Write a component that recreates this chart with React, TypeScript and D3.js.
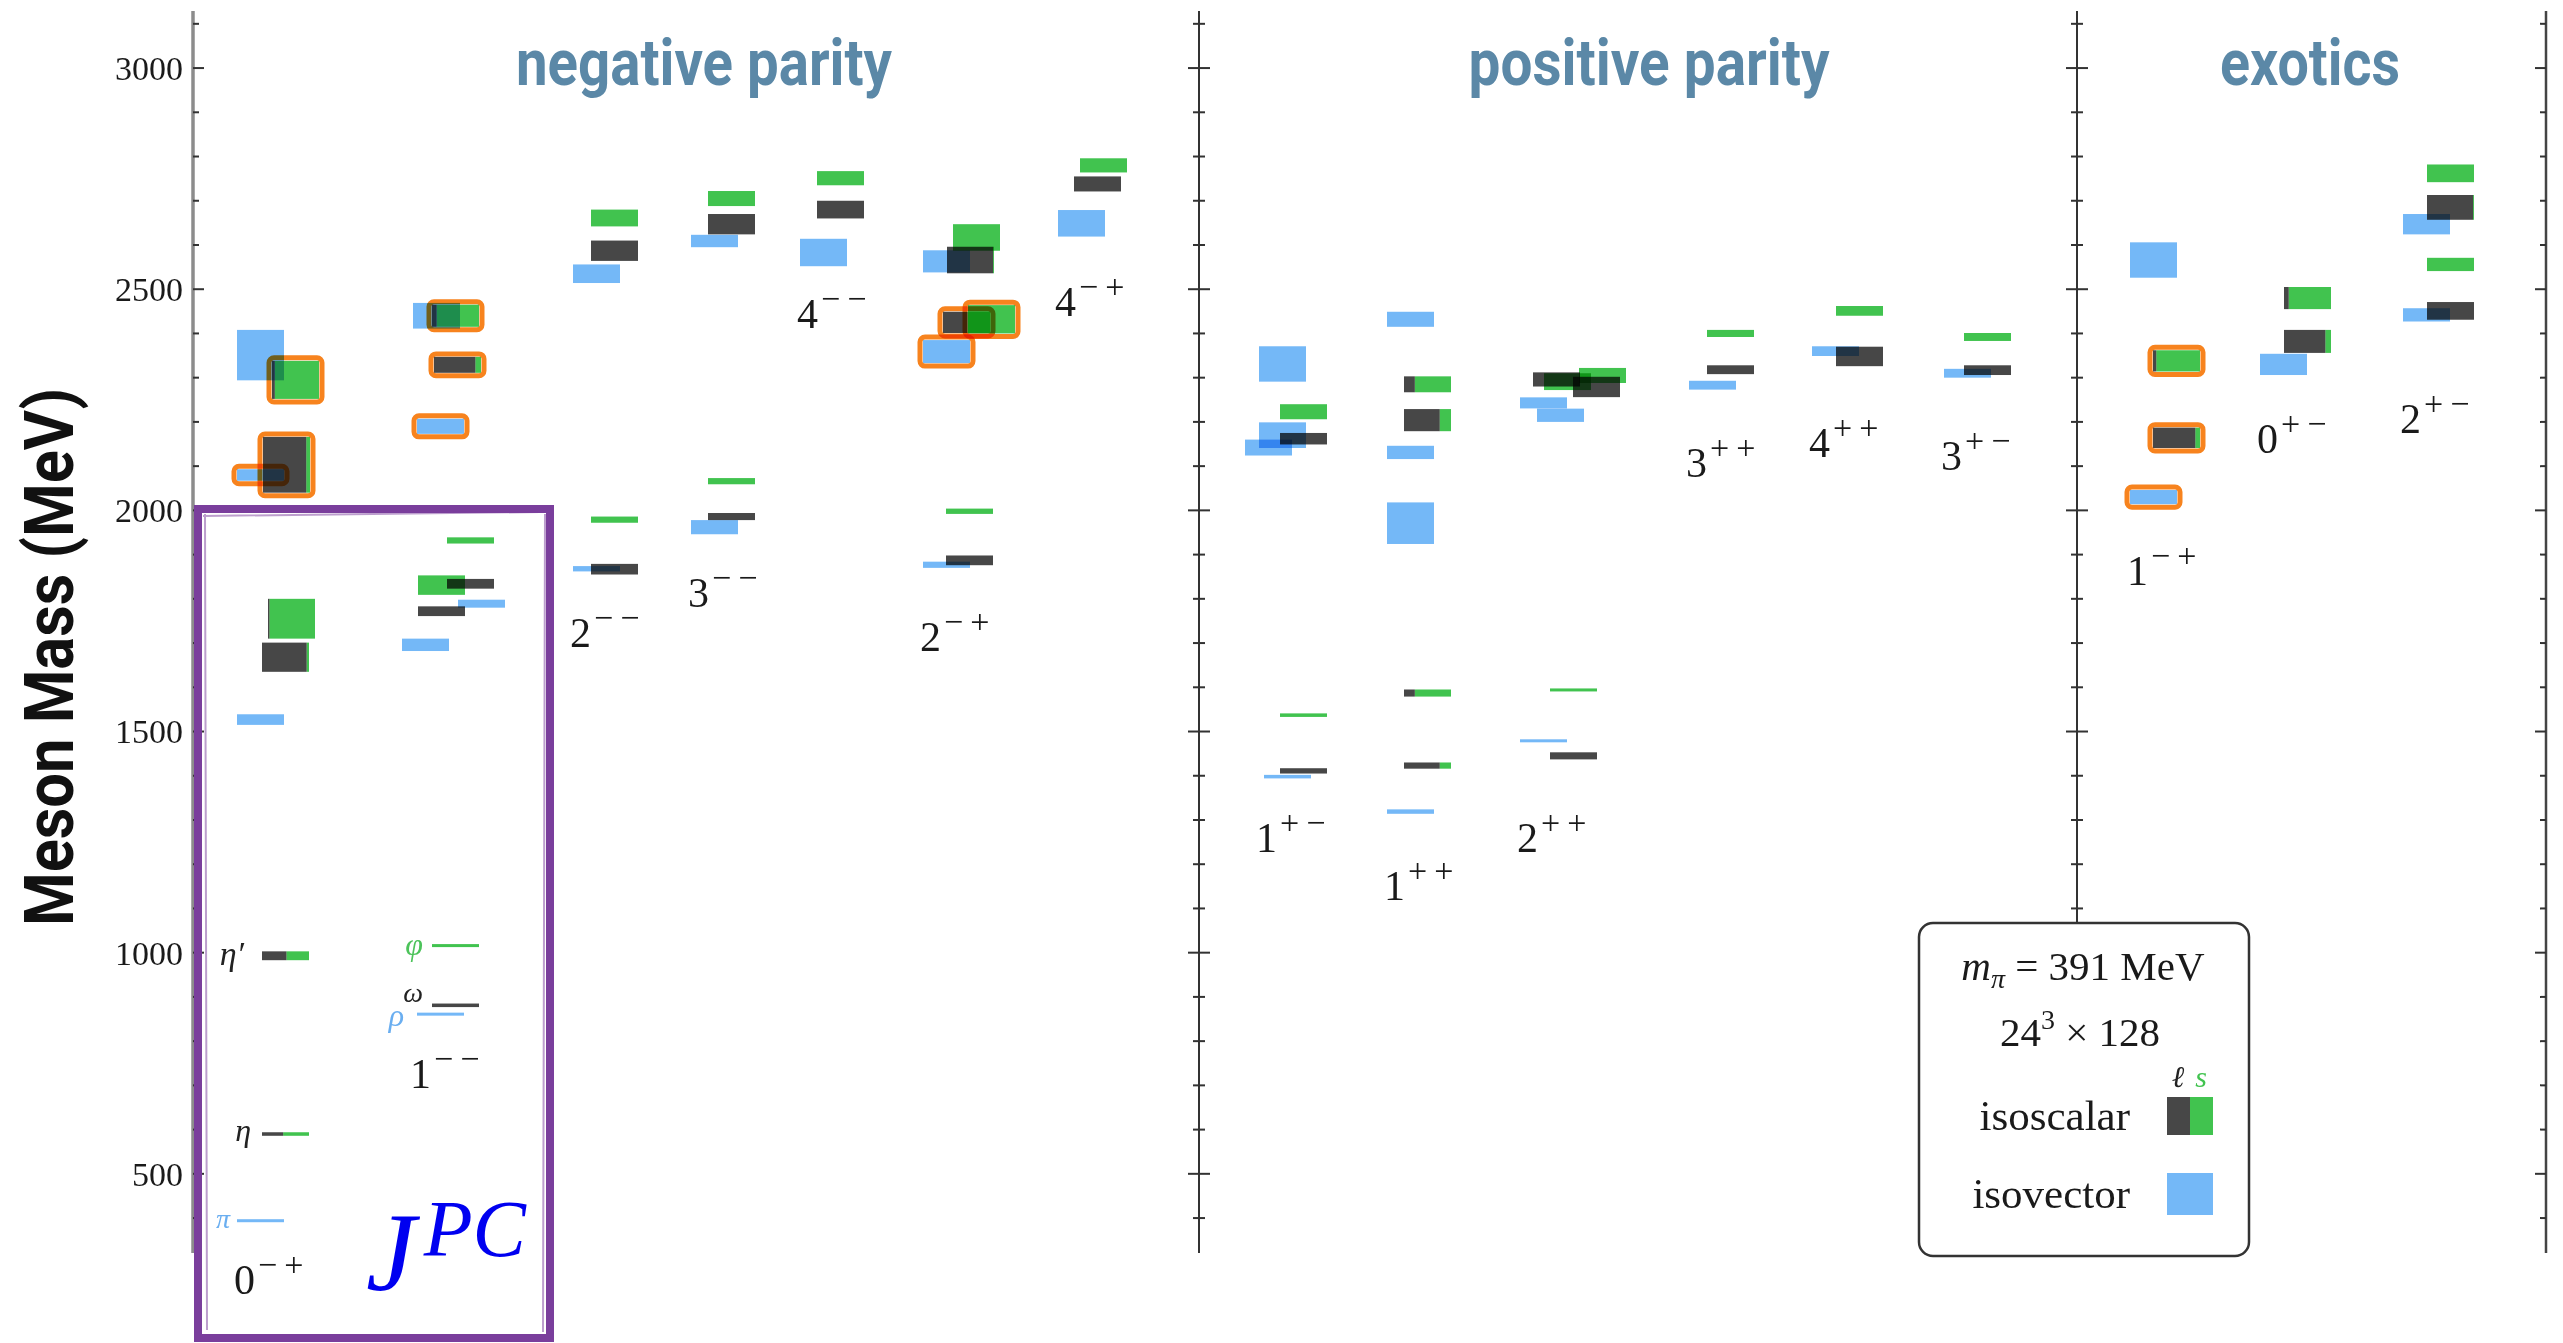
import React, { useEffect, useRef } from "react";
import * as d3 from "d3";

// J^PC channels, left to right
const channels = [
  "0-+", "1--", "2--", "3--", "4--", "2-+", "4-+",
  "1+-", "1++", "2++", "3++", "4++", "3+-",
  "1-+", "0+-", "2+-",
];

// mass (MeV) at which each J^PC label sits
const labelMeV = [229, 694, 1691, 1781, 2412, 1682, 2439, 1228, 1119, 1228, 2075, 2120, 2091, 1831, 2129, 2175];

const sectionTitles = ["negative parity", "positive parity", "exotics"];

// isovector levels: [channel, mass, error, stagger slot, hybrid, name]
const isovector: [string, number, number, number, number, string][] = [
  ["0-+", 394, 3, 0, 0, "π"],
  ["0-+", 1527, 12, 0, 0, ""],
  ["0-+", 2080, 13, 0, 1, ""],
  ["0-+", 2351, 57, 0, 0, ""],
  ["1--", 861, 3, 0.2, 0, "ρ"],
  ["1--", 1696, 14, -0.55, 0, ""],
  ["1--", 1789, 9, 2.25, 0, ""],
  ["1--", 2190, 17, 0.2, 1, ""],
  ["1--", 2440, 29, 0, 0, ""],
  ["2--", 1868, 6, 0, 0, ""],
  ["2--", 2535, 21, 0, 0, ""],
  ["3--", 1962, 16, 0, 0, ""],
  ["3--", 2609, 14, 0, 0, ""],
  ["4--", 2583, 31, 0, 0, ""],
  ["2-+", 1877, 7, 0, 0, ""],
  ["2-+", 2359, 26, 0, 1, ""],
  ["2-+", 2563, 25, 0, 0, ""],
  ["4-+", 2649, 30, 0, 0, ""],
  ["1+-", 1398, 4, 0.25, 0, ""],
  ["1+-", 2142, 18, -0.7, 0, ""],
  ["1+-", 2170, 29, 0, 0, ""],
  ["1+-", 2331, 40, 0, 0, ""],
  ["1++", 1319, 5, 0, 0, ""],
  ["1++", 1971, 47, 0, 0, ""],
  ["1++", 2131, 15, 0, 0, ""],
  ["1++", 2432, 17, 0, 0, ""],
  ["2++", 1479, 3, 0, 0, ""],
  ["2++", 2215, 15, 0.85, 0, ""],
  ["2++", 2243, 12.5, 0, 0, ""],
  ["3++", 2283, 10, 0, 0, ""],
  ["4++", 2360, 11, 0, 0, ""],
  ["3+-", 2310, 10, 0, 0, ""],
  ["1-+", 2030, 16, 0, 1, ""],
  ["1-+", 2566, 40, 0, 0, ""],
  ["0+-", 2330, 24, 0, 0, ""],
  ["2+-", 2442, 15, 0, 0, ""],
  ["2+-", 2647, 23, 0, 0, ""],
];

// isoscalar levels: [channel, mass, error, strange fraction, stagger slot, hybrid, name]
const isoscalar: [string, number, number, number, number, number, string][] = [
  ["0-+", 590, 4, 0.55, 1.25, 0, "η"],
  ["0-+", 993, 10, 0.48, 1.25, 0, "η′"],
  ["0-+", 1668, 33, 0.05, 1.25, 0, ""],
  ["0-+", 1755, 45, 0.97, 1.55, 0, ""],
  ["0-+", 2103, 63, 0.08, 1.3, 1, ""],
  ["0-+", 2295, 43, 0.94, 1.75, 1, ""],
  ["1--", 881, 4, 0, 0.95, 0, "ω"],
  ["1--", 1016, 3, 1, 0.95, 0, "φ"],
  ["1--", 1772, 11, 0, 0.25, 0, ""],
  ["1--", 1831, 22, 1, 0.25, 0, ""],
  ["1--", 1834, 11, 0, 1.7, 0, ""],
  ["1--", 1932, 7, 1, 1.7, 0, ""],
  ["1--", 2329, 18, 0.12, 1.05, 1, ""],
  ["1--", 2440, 25, 0.9, 0.95, 1, ""],
  ["2--", 1867, 12, 0, 0.9, 0, ""],
  ["2--", 1979, 7, 1, 0.9, 0, ""],
  ["2--", 2587, 23, 0, 0.9, 0, ""],
  ["2--", 2661, 19, 1, 0.9, 0, ""],
  ["3--", 1986, 8, 0, 0.85, 0, ""],
  ["3--", 2066, 7, 1, 0.85, 0, ""],
  ["3--", 2647, 23, 0, 0.85, 0, ""],
  ["3--", 2705, 17, 1, 0.85, 0, ""],
  ["4--", 2680, 20, 0, 0.85, 0, ""],
  ["4--", 2751, 16, 1, 0.85, 0, ""],
  ["2-+", 1887, 11, 0, 1.15, 0, ""],
  ["2-+", 1998, 6, 1, 1.15, 0, ""],
  ["2-+", 2425, 24, 0.48, 1.0, 1, ""],
  ["2-+", 2432, 32, 1, 2.25, 1, ""],
  ["2-+", 2566, 30, 0.02, 1.2, 0, ""],
  ["2-+", 2617, 30, 1, 1.5, 0, ""],
  ["4-+", 2738, 17, 0, 0.8, 0, ""],
  ["4-+", 2780, 16, 1, 1.1, 0, ""],
  ["1+-", 1411, 6, 0, 1.05, 0, ""],
  ["1+-", 1537, 4, 1, 1.05, 0, ""],
  ["1+-", 2162, 13, 0, 1.05, 0, ""],
  ["1+-", 2223, 17, 1, 1.05, 0, ""],
  ["1++", 1423, 7, 0.24, 0.85, 0, ""],
  ["1++", 1587, 8, 0.77, 0.85, 0, ""],
  ["1++", 2204, 25, 0.24, 0.85, 0, ""],
  ["1++", 2285, 18, 0.77, 0.85, 0, ""],
  ["2++", 1445, 8, 0, 1.5, 0, ""],
  ["2++", 1594, 3, 1, 1.5, 0, ""],
  ["2++", 2296, 16, 0, 0.65, 0, ""],
  ["2++", 2291, 19, 1, 1.2, 0, ""],
  ["2++", 2305, 17, 1, 2.95, 0, ""],
  ["2++", 2279, 23, 0, 2.65, 0, ""],
  ["3++", 2318, 10, 0, 0.9, 0, ""],
  ["3++", 2400, 8, 1, 0.9, 0, ""],
  ["4++", 2348, 22, 0, 1.2, 0, ""],
  ["4++", 2451, 11, 1, 1.2, 0, ""],
  ["3+-", 2317, 11, 0, 1.0, 0, ""],
  ["3+-", 2392, 9, 1, 1.0, 0, ""],
  ["1-+", 2164, 23, 0.1, 1.15, 1, ""],
  ["1-+", 2338, 24, 0.93, 1.15, 1, ""],
  ["0+-", 2382, 26, 0.12, 1.2, 0, ""],
  ["0+-", 2480, 25, 0.9, 1.2, 0, ""],
  ["2+-", 2451, 20, 0, 1.2, 0, ""],
  ["2+-", 2556, 15, 1, 1.2, 0, ""],
  ["2+-", 2685, 28, 0.02, 1.2, 0, ""],
  ["2+-", 2762, 20, 1, 1.2, 0, ""],
];

const yTicks = d3.range(400, 3101, 100);

// layout
const W = 2563;
const H = 1343;
const COLUMN_X = [237, 413, 573, 691, 800, 923, 1058, 1259, 1387, 1520, 1689, 1812, 1944, 2130, 2260, 2403];
const TITLE_X = [704, 1649, 2310];
const TITLE_W = [376, 361, 180];
const BOX_W = 47;
const BLUE = "#74b8f7";
const DARK = "#474747";
const GREEN = "#41c34f";
const ORANGE = "#f7831e";
const SERIF = "'Liberation Serif', 'DejaVu Serif', serif";
const NARROW = "'Liberation Sans Narrow', 'Roboto', 'Liberation Sans', sans-serif";
const NAME_STYLE: Record<string, { gap: number; dy: number; size: number; color: string }> = {
  "π": { gap: 7, dy: 7, size: 28, color: "#6aaef0" },
  "η": { gap: 11, dy: 7, size: 32, color: "#222" },
  "η′": { gap: 18, dy: 9, size: 34, color: "#222" },
  "ρ": { gap: 13, dy: 12, size: 32, color: "#6aaef0" },
  "ω": { gap: 9, dy: -3, size: 28, color: "#222" },
  "φ": { gap: 9, dy: 9, size: 32, color: "#4cc35a" },
};

const sign = (c: string) => (c === "-" ? "\u2212" : "+");

const MesonChart: React.FC = () => {
  const svgRef = useRef<SVGSVGElement>(null);

  useEffect(() => {
    if (!svgRef.current) return;
    const svg = d3.select(svgRef.current);
    svg.selectAll("*").remove();

    const y = d3.scaleLinear().domain([321, 3129]).range([1253, 11]);
    const x = d3.scaleOrdinal<string, number>().domain(channels).range(COLUMN_X);
    const slot = d3.scaleLinear().domain([0, 1]).range([0, 20]);

    svg.append("rect").attr("width", W).attr("height", H).attr("fill", "#fff");

    // Axes
    const axes = [
      { x: 193, side: "right", bottom: 1253, color: "#8c8c8c", width: 3.5 },
      { x: 1199, side: "both", bottom: 1253, color: "#333", width: 2 },
      { x: 2077, side: "both", bottom: 923, color: "#333", width: 2 },
      { x: 2546, side: "left", bottom: 1253, color: "#444", width: 2.5 },
    ];
    axes.forEach((a) => {
      const g = svg.append("g");
      g.append("line")
        .attr("x1", a.x).attr("x2", a.x)
        .attr("y1", 11).attr("y2", a.bottom)
        .attr("stroke", a.color).attr("stroke-width", a.width);
      g.selectAll("line.tick")
        .data(yTicks.filter((t) => y(t) <= a.bottom))
        .join("line")
        .attr("class", "tick")
        .attr("x1", (t) => {
          const len = t % 500 === 0 ? 11 : 6;
          return a.side === "right" ? a.x : a.x - len;
        })
        .attr("x2", (t) => {
          const len = t % 500 === 0 ? 11 : 6;
          return a.side === "left" ? a.x : a.x + len;
        })
        .attr("y1", (t) => y(t))
        .attr("y2", (t) => y(t))
        .attr("stroke", "#333")
        .attr("stroke-width", 2);
    });

    svg.append("g")
      .selectAll("text")
      .data(yTicks.filter((t) => t % 500 === 0))
      .join("text")
      .attr("x", 183)
      .attr("y", (t) => y(t))
      .attr("dy", "0.35em")
      .attr("text-anchor", "end")
      .attr("font-family", SERIF)
      .attr("font-size", 34)
      .attr("fill", "#1a1a1a")
      .text((t) => t);

    // Axis title
    svg.append("text")
      .attr("transform", "translate(73,657) rotate(-90)")
      .attr("text-anchor", "middle")
      .attr("font-family", NARROW)
      .attr("font-weight", 700)
      .attr("font-size", 68)
      .attr("textLength", 538)
      .attr("lengthAdjust", "spacingAndGlyphs")
      .attr("fill", "#111")
      .text("Meson Mass (MeV)");

    // Section titles
    sectionTitles.forEach((t, i) => {
      svg.append("text")
        .attr("x", TITLE_X[i])
        .attr("y", 85)
        .attr("text-anchor", "middle")
        .attr("font-family", NARROW)
        .attr("font-weight", 700)
        .attr("font-size", 64)
        .attr("textLength", TITLE_W[i])
        .attr("lengthAdjust", "spacingAndGlyphs")
        .attr("fill", "#5b88a7")
        .text(t);
    });

    const top = (m: number, e: number) => {
      const h = Math.max(3, y(m - e) - y(m + e));
      return y(m) - h / 2;
    };
    const height = (m: number, e: number) => Math.max(3, y(m - e) - y(m + e));

    const marks = svg.append("g");

    // isovector boxes
    marks.selectAll("rect.iv")
      .data(isovector)
      .join("rect")
      .attr("class", "iv")
      .attr("x", (d) => x(d[0]) + slot(d[3]))
      .attr("y", (d) => top(d[1], d[2]))
      .attr("width", BOX_W)
      .attr("height", (d) => height(d[1], d[2]))
      .attr("fill", BLUE)
      .style("mix-blend-mode", "multiply");

    // isoscalar boxes: light part (dark) then strange part (green)
    marks.selectAll("rect.light")
      .data(isoscalar.filter((d) => d[3] < 1))
      .join("rect")
      .attr("class", "light")
      .attr("x", (d) => x(d[0]) + slot(d[4]))
      .attr("y", (d) => top(d[1], d[2]))
      .attr("width", (d) => BOX_W * (1 - d[3]))
      .attr("height", (d) => height(d[1], d[2]))
      .attr("fill", DARK)
      .style("mix-blend-mode", "multiply");

    marks.selectAll("rect.strange")
      .data(isoscalar.filter((d) => d[3] > 0))
      .join("rect")
      .attr("class", "strange")
      .attr("x", (d) => x(d[0]) + slot(d[4]) + BOX_W * (1 - d[3]))
      .attr("y", (d) => top(d[1], d[2]))
      .attr("width", (d) => BOX_W * d[3])
      .attr("height", (d) => height(d[1], d[2]))
      .attr("fill", GREEN)
      .style("mix-blend-mode", "multiply");

    // hybrid candidates outlined in orange
    const hybrids = [
      ...isovector.filter((d) => d[4]).map((d) => ({ x: x(d[0]) + slot(d[3]), m: d[1], e: d[2] })),
      ...isoscalar.filter((d) => d[5]).map((d) => ({ x: x(d[0]) + slot(d[4]), m: d[1], e: d[2] })),
    ];
    marks.selectAll("rect.hyb")
      .data(hybrids)
      .join("rect")
      .attr("class", "hyb")
      .attr("x", (d) => d.x - 3)
      .attr("y", (d) => top(d.m, d.e) - 3)
      .attr("width", BOX_W + 6)
      .attr("height", (d) => height(d.m, d.e) + 6)
      .attr("rx", 5)
      .attr("fill", "none")
      .attr("stroke", ORANGE)
      .attr("stroke-width", 5)
      .style("mix-blend-mode", "multiply");

    // particle names
    const named = [
      ...isovector.filter((d) => d[5]).map((d) => ({ x: x(d[0]) + slot(d[3]), m: d[1], name: d[5] })),
      ...isoscalar.filter((d) => d[6]).map((d) => ({ x: x(d[0]) + slot(d[4]), m: d[1], name: d[6] })),
    ];
    svg.append("g")
      .selectAll("text")
      .data(named)
      .join("text")
      .attr("x", (d) => d.x - NAME_STYLE[d.name].gap)
      .attr("y", (d) => y(d.m) + NAME_STYLE[d.name].dy)
      .attr("text-anchor", "end")
      .attr("font-family", SERIF)
      .attr("font-style", "italic")
      .attr("font-size", (d) => NAME_STYLE[d.name].size)
      .attr("fill", (d) => NAME_STYLE[d.name].color)
      .text((d) => d.name);

    // J^PC labels
    channels.forEach((c, i) => {
      const t = svg.append("text")
        .attr("x", x(c) - 3)
        .attr("y", y(labelMeV[i]))
        .attr("font-family", SERIF)
        .attr("font-size", 42)
        .attr("fill", "#1a1a1a");
      t.append("tspan").text(c[0]);
      t.append("tspan")
        .attr("dx", 3)
        .attr("dy", -18)
        .attr("font-size", 34)
        .attr("letter-spacing", 7)
        .text(sign(c[1]) + sign(c[2]));
    });

    // Legend
    const lg = svg.append("g");
    lg.append("rect")
      .attr("x", 1919).attr("y", 923)
      .attr("width", 330).attr("height", 333)
      .attr("rx", 14)
      .attr("fill", "#fff")
      .attr("stroke", "#333")
      .attr("stroke-width", 2.5);
    const l1 = lg.append("text")
      .attr("x", 2083).attr("y", 980)
      .attr("text-anchor", "middle")
      .attr("font-family", SERIF).attr("font-size", 41).attr("fill", "#1a1a1a");
    l1.append("tspan").attr("font-style", "italic").text("m");
    l1.append("tspan").attr("font-style", "italic").attr("font-size", 28).attr("dy", 8).text("π");
    l1.append("tspan").attr("dy", -8).text(" = 391 MeV");
    const l2 = lg.append("text")
      .attr("x", 2080).attr("y", 1046)
      .attr("text-anchor", "middle")
      .attr("font-family", SERIF).attr("font-size", 41).attr("fill", "#1a1a1a");
    l2.append("tspan").text("24");
    l2.append("tspan").attr("font-size", 28).attr("dy", -17).text("3");
    l2.append("tspan").attr("dy", 17).text(" × 128");
    lg.append("text")
      .attr("x", 2178).attr("y", 1087)
      .attr("text-anchor", "middle")
      .attr("font-family", SERIF).attr("font-style", "italic").attr("font-size", 30)
      .attr("fill", "#222").text("ℓ");
    lg.append("text")
      .attr("x", 2201).attr("y", 1087)
      .attr("text-anchor", "middle")
      .attr("font-family", SERIF).attr("font-style", "italic").attr("font-size", 30)
      .attr("fill", GREEN).text("s");
    lg.append("text")
      .attr("x", 2130).attr("y", 1130)
      .attr("text-anchor", "end")
      .attr("font-family", SERIF).attr("font-size", 43).attr("fill", "#1a1a1a")
      .text("isoscalar");
    lg.append("rect").attr("x", 2167).attr("y", 1097).attr("width", 23).attr("height", 38).attr("fill", DARK);
    lg.append("rect").attr("x", 2190).attr("y", 1097).attr("width", 23).attr("height", 38).attr("fill", GREEN);
    lg.append("text")
      .attr("x", 2130).attr("y", 1208)
      .attr("text-anchor", "end")
      .attr("font-family", SERIF).attr("font-size", 43).attr("fill", "#1a1a1a")
      .text("isovector");
    lg.append("rect").attr("x", 2167).attr("y", 1173).attr("width", 46).attr("height", 42).attr("fill", BLUE);

    // Hand-drawn J^PC callout box
    const pg = svg.append("g");
    pg.append("rect")
      .attr("x", 198).attr("y", 509)
      .attr("width", 352).attr("height", 829)
      .attr("fill", "none")
      .attr("stroke", "#7a3e9c")
      .attr("stroke-width", 8);
    pg.append("path")
      .attr("d", "M203,516 L540,512 M205,514 L207,1330 M545,514 L543,1332")
      .attr("fill", "none")
      .attr("stroke", "#7a3e9c")
      .attr("stroke-width", 2)
      .attr("opacity", 0.5);
    const jpc = pg.append("text")
      .attr("x", 366).attr("y", 1290)
      .attr("font-family", SERIF)
      .attr("font-style", "italic")
      .attr("fill", "#0000f0");
    jpc.append("tspan").attr("font-size", 112).text("J");
    jpc.append("tspan").attr("font-size", 80).attr("dx", 8).attr("dy", -34).text("PC");
  }, []);

  return <svg ref={svgRef} width={W} height={H}></svg>;
};

const App: React.FC = () => (
  <div style={{ position: "absolute", left: 0, top: 0, width: W, height: H, background: "#fff" }}>
    <MesonChart />
  </div>
);

export default App;
